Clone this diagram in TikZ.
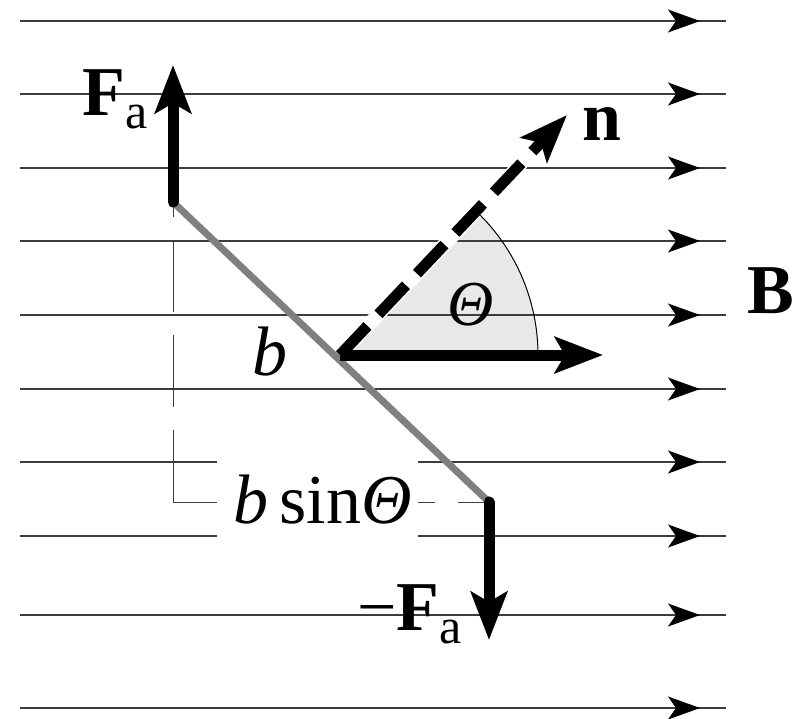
\documentclass[tikz,border=0pt]{standalone}
\usepackage{fontspec}
\setmainfont{Liberation Serif}
\usepackage{tikz}
\usetikzlibrary{arrows.meta}
\definecolor{rodGray}{HTML}{808080}
\definecolor{sectorGray}{HTML}{E8E8E8}
\definecolor{fieldGray}{HTML}{3C3C3C}
\newcommand{\fsub}[1]{{\fontsize{25}{25}\selectfont\raisebox{-6.5pt}{#1}}}

\begin{document}
\begin{tikzpicture}[x=0.5pt,y=-0.5pt,>=Stealth,
  field/.style={fieldGray,line width=0.75pt},
  fieldtip/.style={field,-{Stealth[length=16pt,width=11.5pt,inset=4pt,black]}},
  force/.style={line width=5.5pt,-{Stealth[length=24pt,width=18pt,inset=5pt]}},
  dim/.style={fieldGray,line width=0.5pt,dash pattern=on 36pt off 11.5pt},
  lbl/.style={inner sep=0pt,anchor=base west,font=\fontsize{35}{40}\selectfont}]
\useasboundingbox (0,0) rectangle (807,718);
% rod ends, origin and tips
\coordinate (top) at (173,202);
\coordinate (bot) at (489,502);
\coordinate (corner) at (173,502);
\coordinate (O) at (340,355);
\coordinate (Ftip) at (173,65);
\coordinate (mFtip) at (489,640);
\coordinate (Btip) at (603,355);
\coordinate (ntip) at (567,115);
% angle sector
\fill[sectorGray] (O) -- ++(198,0) arc[start angle=0,end angle=-46.6,radius=198] -- cycle;
% field lines B
\foreach \y in {21,94,168,241,315,389,462,536,615,708}{
  \coordinate (w\y) at (20,\y);
  \coordinate (m\y) at (700,\y);
  \coordinate (e\y) at (726,\y);
  \draw[field] (w\y) -- (e\y);
  \draw[fieldtip] (w\y) -- (m\y);
}
% b sin theta
\draw[dim] (corner) -- (top);
\draw[dim] (corner) -- (bot);
% normal n
\draw[white,line width=7pt,line cap=round] (O) -- (ntip);
\draw[rodGray,line width=3.5pt] (top) -- (bot);
\draw[force,dash pattern=on 20pt off 8pt] (O) -- (ntip);
\draw[line width=0.5pt] (O) ++(198,0) arc[start angle=0,end angle=-46.6,radius=198];
% forces
\draw[force] (O) -- (Btip);
\draw[force,line cap=round] (top) -- (Ftip);
\draw[force,line cap=round] (bot) -- (mFtip);
% labels
\node[lbl] (FaL) at (82,115) {\textbf{F}\fsub{a}};
\node[lbl] (nL) at (582,140) {\textbf{n}};
\node[lbl] (BL) at (747,313) {\textbf{B}};
\node[lbl] (bL) at (252,375) {\textit{b}};
\node[font=\fontsize{32}{36}\selectfont] (thL) at (471,305) {\textit{Θ}};
\node[lbl] (mFaL) at (357,630) {−\textbf{F}\fsub{a}};
\node[fill=white,inner sep=0pt,minimum width=100.5pt,minimum height=45pt,
  font=\fontsize{35}{40}\selectfont] (bsinL) at (317.5,500) {\hspace*{5pt}\textit{b}\,sin\textit{Θ}};
\end{tikzpicture}
\end{document}
